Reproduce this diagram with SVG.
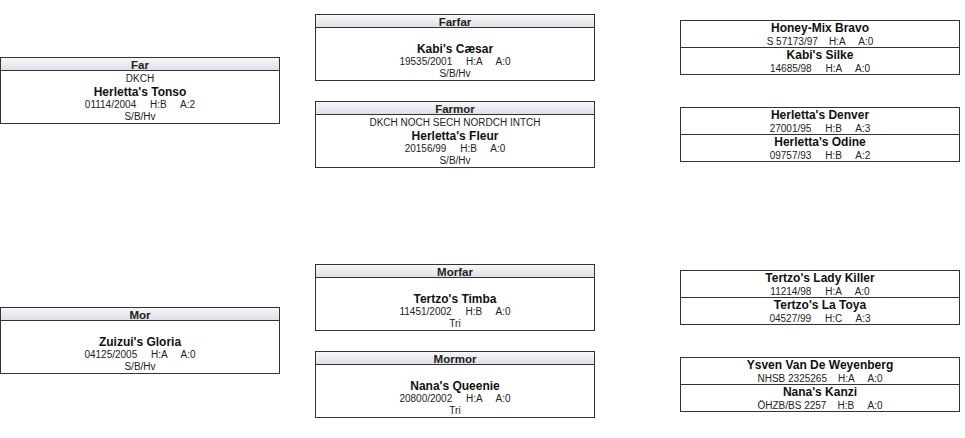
<svg xmlns="http://www.w3.org/2000/svg" width="965" height="438" viewBox="0 0 965 438">
<defs>
<linearGradient id="hg" x1="0" y1="0" x2="0" y2="1">
<stop offset="0" stop-color="#f8f8fa"/>
<stop offset="1" stop-color="#dedee6"/>
</linearGradient>
</defs>
<style>
.box{fill:#fff;stroke:#333;stroke-width:1}
.hdr{fill:url(#hg);stroke:#333;stroke-width:1}
.div{stroke:#333;stroke-width:1}
text{font-family:"Liberation Sans",Arial,sans-serif;text-anchor:middle;fill:#222;white-space:pre}
.h{font-size:11.5px;font-weight:bold}
.n{font-size:12px;font-weight:bold;fill:#111}
.t{font-size:10px}
</style>
<rect width="965" height="438" fill="#fff"/>

<g id="far" transform="translate(0.5,57.5)">
<rect class="box" width="279" height="66"/>
<rect class="hdr" width="279" height="13"/>
<text class="h" x="139.5" y="11.5">Far</text>
<text class="t" x="139.5" y="24">DKCH</text>
<text class="n" x="139.5" y="38.5">Herletta's Tonso</text>
<text class="t" x="139.5" y="50.5" xml:space="preserve">01114/2004     H:B     A:2</text>
<text class="t" x="139.5" y="62">S/B/Hv</text>
</g>

<g id="mor" transform="translate(0.5,307.5)">
<rect class="box" width="279" height="66"/>
<rect class="hdr" width="279" height="13"/>
<text class="h" x="139.5" y="11.5">Mor</text>
<text class="n" x="139.5" y="38.5">Zuizui's Gloria</text>
<text class="t" x="139.5" y="50.5" xml:space="preserve">04125/2005     H:A     A:0</text>
<text class="t" x="139.5" y="62">S/B/Hv</text>
</g>

<g id="farfar" transform="translate(315.5,14.5)">
<rect class="box" width="279" height="66"/>
<rect class="hdr" width="279" height="13"/>
<text class="h" x="139.5" y="11.5">Farfar</text>
<text class="n" x="139.5" y="38.5">Kabi's Cæsar</text>
<text class="t" x="139.5" y="50.5" xml:space="preserve">19535/2001     H:A     A:0</text>
<text class="t" x="139.5" y="62">S/B/Hv</text>
</g>

<g id="farmor" transform="translate(315.5,101.5)">
<rect class="box" width="279" height="66"/>
<rect class="hdr" width="279" height="13"/>
<text class="h" x="139.5" y="11.5">Farmor</text>
<text class="t" x="139.5" y="24">DKCH NOCH SECH NORDCH INTCH</text>
<text class="n" x="139.5" y="38">Herletta's Fleur</text>
<text class="t" x="139.5" y="50.5" xml:space="preserve">20156/99     H:B     A:0</text>
<text class="t" x="139.5" y="62">S/B/Hv</text>
</g>

<g id="morfar" transform="translate(315.5,264.5)">
<rect class="box" width="279" height="66"/>
<rect class="hdr" width="279" height="13"/>
<text class="h" x="139.5" y="11.5">Morfar</text>
<text class="n" x="139.5" y="38.5">Tertzo's Timba</text>
<text class="t" x="139.5" y="50.5" xml:space="preserve">11451/2002     H:B     A:0</text>
<text class="t" x="139.5" y="62">Tri</text>
</g>

<g id="mormor" transform="translate(315.5,351.5)">
<rect class="box" width="279" height="66"/>
<rect class="hdr" width="279" height="13"/>
<text class="h" x="139.5" y="11.5">Mormor</text>
<text class="n" x="139.5" y="38.5">Nana's Queenie</text>
<text class="t" x="139.5" y="50.5" xml:space="preserve">20800/2002     H:A     A:0</text>
<text class="t" x="139.5" y="62">Tri</text>
</g>

<g id="farfar-parents" transform="translate(680.5,20.5)">
<rect class="box" width="279" height="54"/>
<line class="div" x1="0" y1="27" x2="279" y2="27"/>
<text class="n" x="139.5" y="11.5">Honey-Mix Bravo</text>
<text class="t" x="139.5" y="24" xml:space="preserve">S 57173/97    H:A     A:0</text>
<text class="n" x="139.5" y="38.5">Kabi's Silke</text>
<text class="t" x="139.5" y="51" xml:space="preserve">14685/98     H:A     A:0</text>
</g>

<g id="farmor-parents" transform="translate(680.5,107.5)">
<rect class="box" width="279" height="54"/>
<line class="div" x1="0" y1="27" x2="279" y2="27"/>
<text class="n" x="139.5" y="11.5">Herletta's Denver</text>
<text class="t" x="139.5" y="24" xml:space="preserve">27001/95     H:B     A:3</text>
<text class="n" x="139.5" y="38.5">Herletta's Odine</text>
<text class="t" x="139.5" y="51" xml:space="preserve">09757/93     H:B     A:2</text>
</g>

<g id="morfar-parents" transform="translate(680.5,270.5)">
<rect class="box" width="279" height="54"/>
<line class="div" x1="0" y1="27" x2="279" y2="27"/>
<text class="n" x="139.5" y="11.5">Tertzo's Lady Killer</text>
<text class="t" x="139.5" y="24" xml:space="preserve">11214/98     H:A     A:0</text>
<text class="n" x="139.5" y="38.5">Tertzo's La Toya</text>
<text class="t" x="139.5" y="51" xml:space="preserve">04527/99     H:C     A:3</text>
</g>

<g id="mormor-parents" transform="translate(680.5,357.5)">
<rect class="box" width="279" height="54"/>
<line class="div" x1="0" y1="27" x2="279" y2="27"/>
<text class="n" x="139.5" y="11.5">Ysven Van De Weyenberg</text>
<text class="t" x="139.5" y="24" xml:space="preserve">NHSB 2325265    H:A     A:0</text>
<text class="n" x="139.5" y="38.5">Nana's Kanzi</text>
<text class="t" x="139.5" y="51" xml:space="preserve">ÖHZB/BS 2257    H:B     A:0</text>
</g>
</svg>
